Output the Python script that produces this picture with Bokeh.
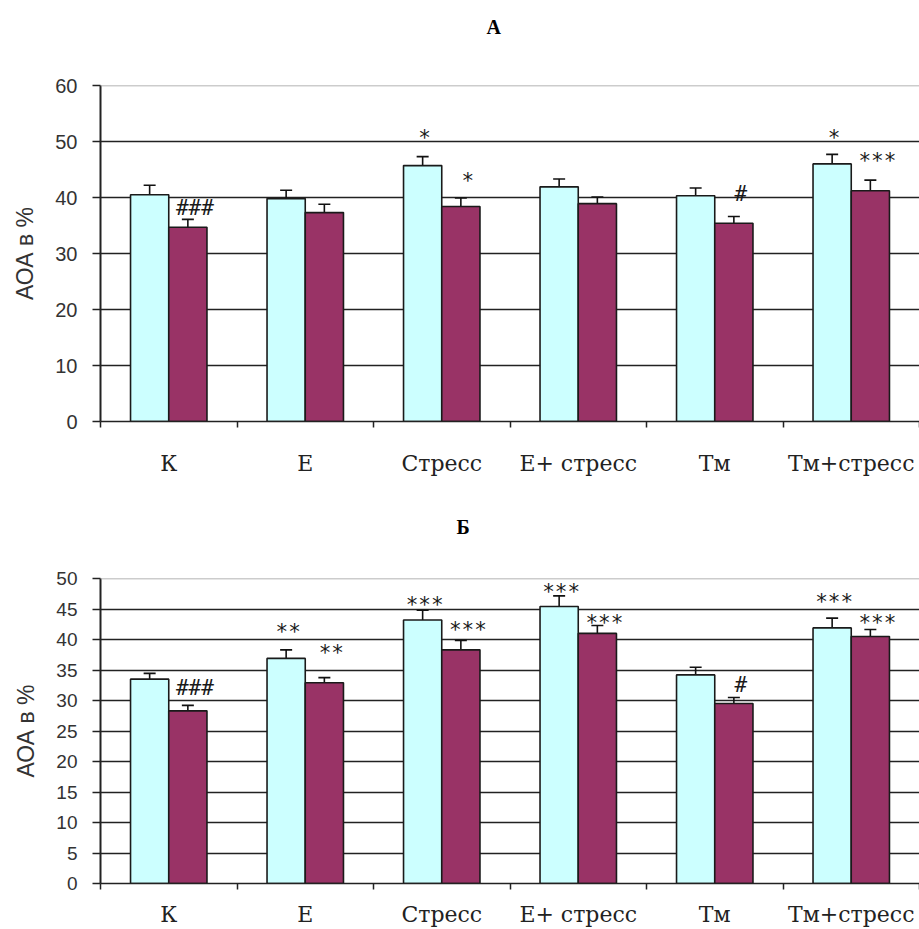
from bokeh.plotting import figure
from bokeh.models import ColumnDataSource, Whisker, TeeHead, FixedTicker, Span, Title, Range1d
from bokeh.layouts import column
from bokeh.embed import file_html
from bokeh.resources import INLINE
from bokeh.core.properties import value

# ---------------- data ----------------
categories = ["К", "Е", "Стресс", "Е+ стресс", "Тм", "Тм+стресс"]

A_light = [40.5, 39.8, 45.7, 41.9, 40.3, 46.0]
A_light_err = [1.7, 1.5, 1.6, 1.4, 1.4, 1.7]
A_dark = [34.7, 37.3, 38.4, 38.9, 35.4, 41.2]
A_dark_err = [1.4, 1.5, 1.5, 1.2, 1.2, 1.9]

B_light = [33.5, 36.9, 43.2, 45.4, 34.2, 41.9]
B_light_err = [0.95, 1.4, 1.6, 1.75, 1.25, 1.6]
B_dark = [28.3, 32.9, 38.3, 41.0, 29.5, 40.5]
B_dark_err = [0.9, 0.85, 1.55, 1.3, 1.0, 1.15]

# significance marks: (category index, series, text, y in data units)
sig_A = [(0, "dark", "###", 38.2), (2, "light", "*", 51.2), (2, "dark", "*", 43.4),
         (4, "dark", "#", 40.7), (5, "light", "*", 51.1), (5, "dark", "***", 47.0)]
sig_B = [(0, "dark", "###", 32.1), (1, "light", "**", 41.7), (1, "dark", "**", 38.2),
         (2, "light", "***", 46.1), (2, "dark", "***", 42.1), (3, "light", "***", 48.25),
         (3, "dark", "***", 43.2), (4, "dark", "#", 32.5), (5, "light", "***", 46.6),
         (5, "dark", "***", 43.2)]

LIGHT = "#CCFFFF"
DARK = "#993366"
BAR_W = 0.28


def make_panel(title, light, light_err, dark, dark_err, ymax, ystep, sigs,
               height, left_border, top_border, bottom_border, title_offset, title_gap,
               tick_size, xlab_size, xlab_standoff):
    n = len(categories)
    centers = [i + 0.5 for i in range(n)]
    xl = [c - BAR_W / 2 for c in centers]
    xd = [c + BAR_W / 2 for c in centers]

    p = figure(width=919, height=height, x_range=Range1d(0, n), y_range=Range1d(0, ymax),
               output_backend="svg", toolbar_location=None,
               min_border_left=left_border, min_border_right=0,
               min_border_top=top_border, min_border_bottom=bottom_border)
    p.outline_line_color = None
    p.background_fill_color = "white"
    p.border_fill_color = "white"

    # grid
    p.xgrid.grid_line_color = None
    p.ygrid.ticker = FixedTicker(ticks=list(range(0, ymax, ystep)))
    p.ygrid.grid_line_color = "#222222"
    p.ygrid.grid_line_width = 1.5
    p.add_layout(Span(location=ymax, dimension="width", line_color="#9a9a9a", line_width=1.5))

    # bars
    src_l = ColumnDataSource(dict(x=xl, top=light, upper=[v + e for v, e in zip(light, light_err)],
                                  lower=[v - e for v, e in zip(light, light_err)]))
    src_d = ColumnDataSource(dict(x=xd, top=dark, upper=[v + e for v, e in zip(dark, dark_err)],
                                  lower=[v - e for v, e in zip(dark, dark_err)]))
    p.vbar(x="x", top="top", bottom=0, width=BAR_W, source=src_l,
           fill_color=LIGHT, line_color="#1a1a1a", line_width=1.6)
    p.vbar(x="x", top="top", bottom=0, width=BAR_W, source=src_d,
           fill_color=DARK, line_color="#1a1a1a", line_width=1.6)

    for src in (src_l, src_d):
        w = Whisker(base="x", upper="upper", lower="lower", source=src,
                    line_color="#111111", line_width=1.6,
                    upper_head=TeeHead(size=12, line_color="#111111", line_width=1.6),
                    lower_head=TeeHead(size=12, line_color="#111111", line_width=1.6))
        p.add_layout(w)

    # significance marks
    sx, sy, st, xo, yo = [], [], [], [], []
    for idx, series, txt, yv in sigs:
        if series == "light":
            sx.append(xl[idx]); xo.append(2)
        else:
            sx.append(xd[idx]); xo.append(7)
        yo.append(3 if "*" in txt else 0)
        sy.append(yv); st.append(txt)
    ss = ColumnDataSource(dict(x=sx, y=sy, text=st, xo=xo, yo=yo))
    p.text(x="x", y="y", text="text", x_offset="xo", y_offset="yo", source=ss,
           text_font=value("DejaVu Sans Mono"), text_font_size="21px",
           text_color="#1a1a1a", text_align="center", text_baseline="middle")

    # x axis
    p.xaxis.ticker = FixedTicker(ticks=centers, minor_ticks=list(range(n + 1)))
    p.xaxis.major_label_overrides = {c: lab for c, lab in zip(centers, categories)}
    p.xaxis.major_tick_line_color = None
    p.xaxis.major_tick_out = 0
    p.xaxis.major_tick_in = 0
    p.xaxis.minor_tick_out = 6
    p.xaxis.minor_tick_in = 0
    p.xaxis.minor_tick_line_color = "#222222"
    p.xaxis.minor_tick_line_width = 1.5
    p.xaxis.axis_line_color = "#222222"
    p.xaxis.axis_line_width = 1.5
    p.xaxis.major_label_standoff = xlab_standoff
    p.xaxis.major_label_text_font = "DejaVu Serif"
    p.xaxis.major_label_text_font_size = xlab_size
    p.xaxis.major_label_text_color = "#222222"

    # y axis
    p.yaxis.ticker = FixedTicker(ticks=list(range(0, ymax + 1, ystep)))
    p.yaxis.axis_label = "АОА в %"
    p.yaxis.axis_label_text_font = "Liberation Sans"
    p.yaxis.axis_label_text_font_style = "normal"
    p.yaxis.axis_label_text_font_size = "23px"
    p.yaxis.axis_label_text_color = "#333333"
    p.yaxis.axis_label_standoff = 14
    p.yaxis.major_label_standoff = 15
    p.yaxis.major_label_text_font = "Liberation Sans"
    p.yaxis.major_label_text_font_size = tick_size
    p.yaxis.major_label_text_color = "#333333"
    p.yaxis.major_tick_out = 8
    p.yaxis.major_tick_in = 0
    p.yaxis.major_tick_line_color = "#222222"
    p.yaxis.major_tick_line_width = 1.5
    p.yaxis.minor_tick_line_color = None
    p.yaxis.axis_line_color = "#222222"
    p.yaxis.axis_line_width = 2

    # spacer between frame and panel letter, then the letter itself
    p.add_layout(Title(text=" ", standoff=title_gap, text_font_size="1px"), "above")
    p.add_layout(Title(text=title, align="left", offset=title_offset, standoff=8,
                       text_font="Liberation Serif", text_font_style="bold",
                       text_font_size="20px", text_color="#000000"), "above")
    return p


pA = make_panel("А", A_light, A_light_err, A_dark, A_dark_err, 60, 10, sig_A,
                height=490, left_border=98, top_border=85, bottom_border=69,
                title_offset=386, title_gap=41,
                tick_size="20px", xlab_size="22px", xlab_standoff=23)
pB = make_panel("Б", B_light, B_light_err, B_dark, B_dark_err, 50, 5, sig_B,
                height=439, left_border=100, top_border=88, bottom_border=45,
                title_offset=356, title_gap=34,
                tick_size="19px", xlab_size="22px", xlab_standoff=12)

layout = column(pA, pB, spacing=0)
open("out.html", "w").write(file_html(layout, INLINE))
